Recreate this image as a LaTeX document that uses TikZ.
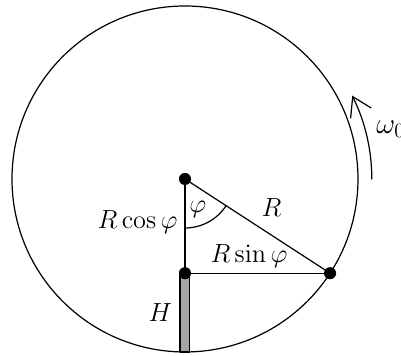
\documentclass[tikz,border=0pt]{standalone}
\usepackage{amsmath}
\usepackage{amssymb}
\usetikzlibrary{arrows.meta}

\begin{document}
\begin{tikzpicture}[
    line cap=round,
    line join=round,
    line width=0.6pt,
    font=\large,
    lbl/.style={scale=1.08},
    dot/.style={circle, fill, inner sep=0pt, minimum size=2.1mm}
]
\useasboundingbox (-3.208,-3.069) rectangle (3.746,3.104);

% Cerchio
\coordinate (O) at (0,0);
\draw (O) circle (3);

% Punti
\coordinate (A) at (0,{-3*cos(57)});
\coordinate (P) at ({3*sin(57)},{-3*cos(57)});
\coordinate (B) at (0,-3);

% Palo
\draw[fill=black!35] ([xshift=-0.085cm]A) rectangle ([xshift=0.085cm]B);

% Raggio e cateti
\draw (O) -- (P);
\draw (O) -- (A);
\draw (A) -- (P);

% Angolo
\draw ([shift={(-90:0.85)}]O) arc (-90:-33:0.85);

% Rotazione
\coordinate (W) at (3.24,0);
\draw[-{Straight Barb[length=3.2mm,width=4mm]}] (W) arc (0:26.5:3.24);
\node[anchor=base west, inner sep=0pt] (w) at (3.31,0.79) {\Large$\omega_0$};

% Punti evidenziati
\node[dot] (o) at (O) {};
\node[dot] (a) at (A) {};
\node[dot] (p) at (P) {};

% Etichette
\node[lbl] (phi) at (0.22,-0.53) {$\varphi$};
\node[lbl] (r) at (1.5,-0.5) {$R$};
\node[lbl, anchor=east, inner sep=0pt] (rc) at (-0.12,-0.75) {$R\cos\varphi$};
\node[lbl] (rs) at (1.11,-1.33) {$R\sin\varphi$};
\node[lbl] (h) at (-0.43,-2.31) {$H$};

\end{tikzpicture}
\end{document}
